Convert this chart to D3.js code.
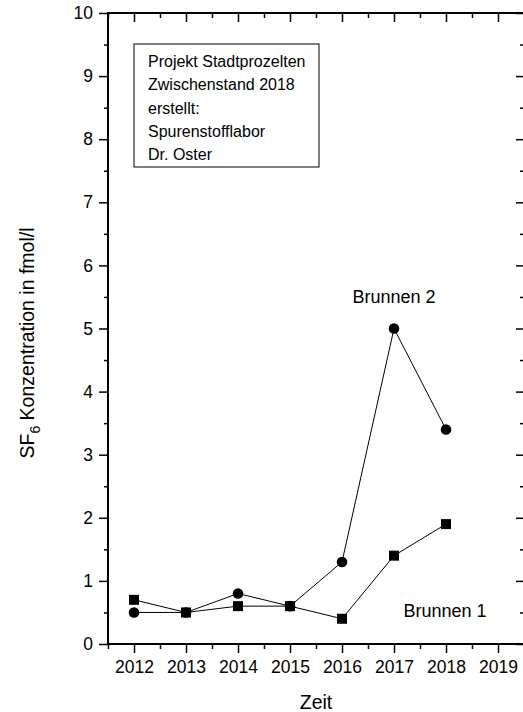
<!DOCTYPE html>
<html>
<head>
<meta charset="utf-8">
<script src="https://cdn.jsdelivr.net/npm/d3@7"></script>
<style>
  body { margin: 0; background: #fff; }
  svg { display: block; font-family: "Liberation Sans", Arial, sans-serif; }
</style>
</head>
<body>
<svg id="chart" width="523" height="712"></svg>
<script>
// data
const years = [2012, 2013, 2014, 2015, 2016, 2017, 2018];
const brunnen1 = [0.7, 0.5, 0.6, 0.6, 0.4, 1.4, 1.9];
const brunnen2 = [0.5, 0.5, 0.8, 0.6, 1.3, 5.0, 3.4];
const xTicks = [2012, 2013, 2014, 2015, 2016, 2017, 2018, 2019];
const yTicks = [0, 1, 2, 3, 4, 5, 6, 7, 8, 9, 10];
const noteLines = ['Projekt Stadtprozelten', 'Zwischenstand 2018', 'erstellt:', 'Spurenstofflabor', 'Dr. Oster'];

const svg = d3.select('#chart');
const plotLeft = 108, plotRight = 524, plotTop = 13, plotBottom = 644;

const x = d3.scaleLinear().domain([2011.5, 2019.5]).range([plotLeft, plotRight]);
const y = d3.scaleLinear().domain([0, 10]).range([plotBottom, plotTop]);

const minorX = d3.range(2011.5, 2019.6, 0.5).filter(v => !Number.isInteger(v));
const minorY = d3.range(0.5, 10, 1);

// frame
svg.append('rect')
    .attr('x', plotLeft).attr('y', plotTop)
    .attr('width', plotRight - plotLeft).attr('height', plotBottom - plotTop)
    .attr('fill', 'none').attr('stroke', '#000').attr('stroke-width', 2);

function drawAxis(axis, transform) {
    const g = svg.append('g').attr('transform', transform).call(axis);
    g.select('.domain').remove();
    g.selectAll('line').attr('stroke', '#000').attr('stroke-width', 1.5);
    g.selectAll('text').attr('font-size', 17.5).attr('fill', '#000')
        .attr('font-family', '"Liberation Sans", Arial, sans-serif');
    return g;
}

// bottom axis
drawAxis(d3.axisBottom(x).tickValues(xTicks).tickFormat(d3.format('d')).tickSize(9).tickPadding(8),
    `translate(0,${plotBottom})`);
drawAxis(d3.axisBottom(x).tickValues(minorX).tickFormat('').tickSize(5),
    `translate(0,${plotBottom})`);
// top axis (inward)
drawAxis(d3.axisBottom(x).tickValues(xTicks).tickFormat('').tickSize(9),
    `translate(0,${plotTop})`);
drawAxis(d3.axisBottom(x).tickValues(minorX).tickFormat('').tickSize(5),
    `translate(0,${plotTop})`);
// left axis
drawAxis(d3.axisLeft(y).tickValues(yTicks).tickFormat(d3.format('d')).tickSize(9).tickPadding(6),
    `translate(${plotLeft},0)`);
drawAxis(d3.axisLeft(y).tickValues(minorY).tickFormat('').tickSize(4),
    `translate(${plotLeft},0)`);
// right axis (inward)
drawAxis(d3.axisLeft(y).tickValues(yTicks).tickFormat('').tickSize(8),
    `translate(${plotRight},0)`);
drawAxis(d3.axisLeft(y).tickValues(minorY).tickFormat('').tickSize(4),
    `translate(${plotRight},0)`);

// axis titles
svg.append('text')
    .attr('x', 316).attr('y', 709)
    .attr('text-anchor', 'middle').attr('font-size', 19.5)
    .text('Zeit');

const yTitle = svg.append('text')
    .attr('transform', 'translate(34,343) rotate(-90)')
    .attr('text-anchor', 'middle').attr('font-size', 19.5);
yTitle.append('tspan').text('SF');
yTitle.append('tspan').attr('font-size', 14).attr('dy', 6).text('6');
yTitle.append('tspan').attr('dy', -6).text(' Konzentration in fmol/l');

// lines
const line = d3.line().x((d, i) => x(years[i])).y(d => y(d));
[brunnen1, brunnen2].forEach(series => {
    svg.append('path').datum(series)
        .attr('d', line)
        .attr('fill', 'none').attr('stroke', '#000').attr('stroke-width', 1);
});

// markers
svg.append('g').selectAll('rect').data(brunnen1).join('rect')
    .attr('x', (d, i) => x(years[i]) - 5)
    .attr('y', d => y(d) - 5)
    .attr('width', 10).attr('height', 10)
    .attr('fill', '#000');

svg.append('g').selectAll('circle').data(brunnen2).join('circle')
    .attr('cx', (d, i) => x(years[i]))
    .attr('cy', d => y(d))
    .attr('r', 5.3)
    .attr('fill', '#000');

// series labels
svg.append('text').attr('x', 394).attr('y', 303)
    .attr('text-anchor', 'middle').attr('font-size', 18).text('Brunnen 2');
svg.append('text').attr('x', 445).attr('y', 617)
    .attr('text-anchor', 'middle').attr('font-size', 18).text('Brunnen 1');

// note box
svg.append('rect')
    .attr('x', 134).attr('y', 44).attr('width', 185).attr('height', 123)
    .attr('fill', '#fff').attr('stroke', '#000').attr('stroke-width', 1);
svg.append('g').selectAll('text').data(noteLines).join('text')
    .attr('x', 148)
    .attr('y', (d, i) => 67 + i * 23.3)
    .attr('font-size', 16)
    .text(d => d);
</script>
</body>
</html>
